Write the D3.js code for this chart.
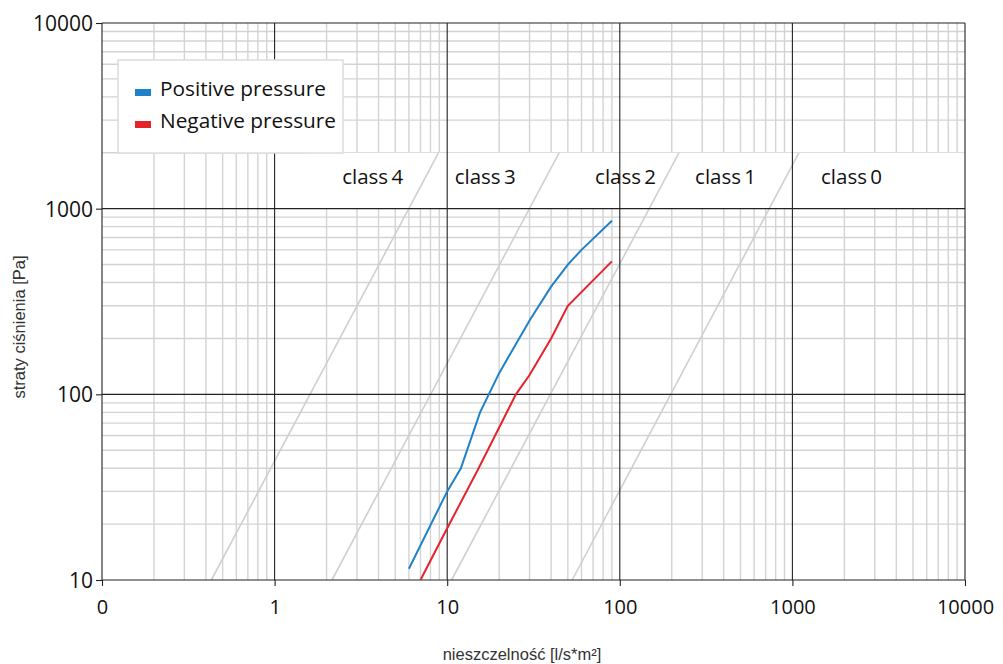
<!DOCTYPE html>
<html lang="pl">
<head>
    <meta charset="UTF-8">
    <title>Leakage chart</title>
    <script src="https://d3js.org/d3.v7.min.js"></script>
    <style>
        body { margin: 0; background: #fff; }
        svg { display: block; }
        .lab { font-family: "Open Sans", sans-serif; fill: #111; }
        .title { font-family: "Liberation Sans", Arial, sans-serif; fill: #333; font-size: 16.5px; }
    </style>
</head>
<body>
<div id="chart"></div>
<script>
// axis ticks
const xTickValues = [0.1, 1, 10, 100, 1000, 10000];
const xTickLabels = ["0", "1", "10", "100", "1000", "10000"];
const yTickValues = [10, 100, 1000, 10000];
const yTickLabels = ["10", "100", "1000", "10000"];

// measured curves
const positiveX = [6, 10, 12, 15.5, 20, 30, 40, 50, 60, 90];
const positiveY = [11.5, 30, 40, 80, 130, 250, 380, 500, 600, 860];
const negativeX = [7, 10, 15, 25, 30, 40, 50, 90];
const negativeY = [10, 19, 39, 100, 127, 200, 300, 520];

// class boundary lines, leakage at 10 Pa and at 2000 Pa
const classP = [10, 2000];
const classLowX = [0.43, 2.15, 10.6, 53];
const classHighX = [8.9, 44.5, 220, 1090];
const classNames = ["class 4", "class 3", "class 2", "class 1", "class 0"];
const classLabelX = [3.7, 16.6, 108, 410, 2200];
const classLabelP = 1480;

const seriesNames = ["Positive pressure", "Negative pressure"];
const seriesColors = ["#1f82c8", "#e5232b"];

const W = 1003, H = 664;
const pLeft = 102, pRight = 965, pTop = 23, pBottom = 580;

const svg = d3.select("#chart").append("svg")
    .attr("width", W).attr("height", H);

const x = d3.scaleLog().domain([0.1, 10000]).range([pLeft, pRight]);
const y = d3.scaleLog().domain([10, 10000]).range([pBottom, pTop]);

// minor values in each decade
const minorX = [], minorY = [];
for (let d = 0.1; d < 10000; d *= 10)
    for (let k = 2; k <= 9; k++) minorX.push(d * k);
for (let d = 10; d < 10000; d *= 10)
    for (let k = 2; k <= 9; k++) minorY.push(d * k);

const grid = svg.append("g");
grid.selectAll(".mx").data(minorX).enter().append("line")
    .attr("x1", d => x(d)).attr("x2", d => x(d))
    .attr("y1", pTop).attr("y2", pBottom)
    .attr("stroke", "#d3d3d3").attr("stroke-width", 1.4);
grid.selectAll(".my").data(minorY).enter().append("line")
    .attr("x1", pLeft).attr("x2", pRight)
    .attr("y1", d => y(d)).attr("y2", d => y(d))
    .attr("stroke", "#d3d3d3").attr("stroke-width", 1.4);

// white band behind class labels
svg.append("rect")
    .attr("x", x(1.5)).attr("y", y(2000))
    .attr("width", pRight - x(1.5)).attr("height", y(1000) - y(2000))
    .attr("fill", "#fff");

// class boundary lines
svg.selectAll(".cls").data(classLowX).enter().append("line")
    .attr("x1", d => x(d)).attr("y1", y(classP[0]))
    .attr("x2", (d, i) => x(classHighX[i])).attr("y2", y(classP[1]))
    .attr("stroke", "#cfcfcf").attr("stroke-width", 1.6);

// major grid
svg.selectAll(".Mx").data(xTickValues).enter().append("line")
    .attr("x1", d => x(d)).attr("x2", d => x(d))
    .attr("y1", pTop).attr("y2", pBottom)
    .attr("stroke", "#222").attr("stroke-width", 1.1);
svg.selectAll(".My").data(yTickValues).enter().append("line")
    .attr("x1", pLeft).attr("x2", pRight)
    .attr("y1", d => y(d)).attr("y2", d => y(d))
    .attr("stroke", "#222").attr("stroke-width", 1.1);

// axes (ticks + labels)
const xAxis = d3.axisBottom(x).tickValues(xTickValues)
    .tickFormat((d, i) => xTickLabels[i]).tickSize(6).tickSizeOuter(0);
const gx = svg.append("g").attr("transform", `translate(0,${pBottom})`).call(xAxis);
gx.select(".domain").remove();
gx.selectAll(".tick line").attr("stroke", "#222").attr("stroke-width", 1.1);
gx.selectAll(".tick text").attr("class", "lab").attr("font-size", 20)
    .attr("dy", 0).attr("y", 34);

const yAxis = d3.axisLeft(y).tickValues(yTickValues)
    .tickFormat((d, i) => yTickLabels[i]).tickSize(6).tickSizeOuter(0);
const gy = svg.append("g").attr("transform", `translate(${pLeft},0)`).call(yAxis);
gy.select(".domain").remove();
gy.selectAll(".tick line").attr("stroke", "#222").attr("stroke-width", 1.1);
gy.selectAll(".tick text").attr("class", "lab").attr("font-size", 21)
    .attr("x", -9).attr("dy", "0.36em");

// class labels
svg.selectAll(".cl").data(classNames).enter().append("text")
    .attr("class", "lab").attr("font-size", 20.5)
    .attr("x", (d, i) => x(classLabelX[i])).attr("y", y(classLabelP))
    .attr("text-anchor", "middle").attr("dy", "0.36em")
    .attr("word-spacing", -2)
    .text(d => d);

// data curves
const line = d3.line().x(d => x(d[0])).y(d => y(d[1]));
const seriesData = [
    positiveX.map((v, i) => [v, positiveY[i]]),
    negativeX.map((v, i) => [v, negativeY[i]])
];
svg.selectAll(".curve").data(seriesData).enter().append("path")
    .attr("d", line).attr("fill", "none")
    .attr("stroke", (d, i) => seriesColors[i]).attr("stroke-width", 2);

// legend
const lg = svg.append("g");
lg.append("rect").attr("x", 118).attr("y", 60).attr("width", 225).attr("height", 93)
    .attr("fill", "#fff").attr("stroke", "#dcdcdc").attr("stroke-width", 1.5);
seriesNames.forEach((n, i) => {
    lg.append("rect").attr("x", 135).attr("y", 89 + i * 32).attr("width", 16).attr("height", 7)
        .attr("fill", seriesColors[i]);
    lg.append("text").attr("class", "lab").attr("font-size", 20.8)
        .attr("x", 160).attr("y", 96 + i * 32).text(n);
});

// axis titles
svg.append("text").attr("class", "title")
    .attr("x", 522).attr("y", 660).attr("text-anchor", "middle")
    .text("nieszczelność [l/s*m²]");
svg.append("text").attr("class", "title")
    .attr("transform", "translate(25,327) rotate(-90)").attr("text-anchor", "middle")
    .text("straty ciśnienia [Pa]");
</script>
</body>
</html>
